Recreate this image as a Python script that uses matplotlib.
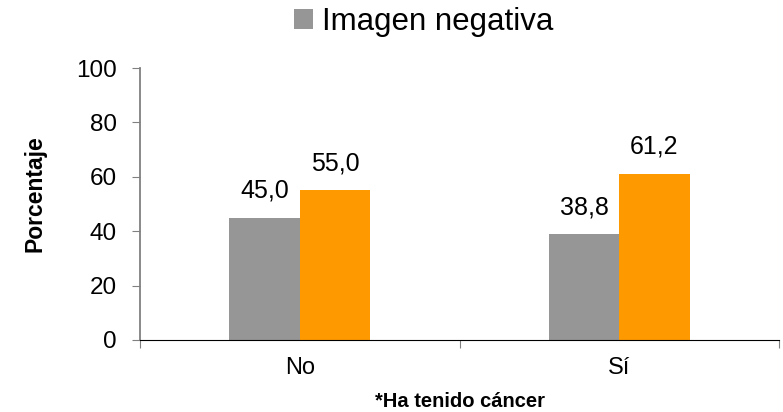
import matplotlib.pyplot as plt
import numpy as np

plt.rcParams['font.family'] = ['Liberation Sans', 'DejaVu Sans']

# Data
categorias = ['No', 'Sí']
imagen_negativa = [45.0, 38.8]
imagen_positiva = [55.0, 61.2]
yticks = [0, 20, 40, 60, 80, 100]

gris = '#969696'
naranja = '#ff9900'

fig = plt.figure(figsize=(7.83, 4.12), dpi=100)
ax = fig.add_axes([0.1788, 0.1748, 0.8161, 0.660])

centros = np.arange(len(categorias)) + 0.5
ancho = 0.22
b1 = ax.bar(centros - ancho / 2, imagen_negativa, ancho, color=gris, label='Imagen negativa')
b2 = ax.bar(centros + ancho / 2, imagen_positiva, ancho, color=naranja)

for barras, valores in ((b1, imagen_negativa), (b2, imagen_positiva)):
    for b, v in zip(barras, valores):
        ax.text(b.get_x() + b.get_width() / 2, v + 5.5, f'{v:.1f}'.replace('.', ','),
                ha='center', va='bottom', fontsize=18)

ax.set_xlim(0, 2)
ax.set_ylim(0, 100)
ax.set_yticks(yticks)
ax.set_xticks([0, 1, 2])
ax.set_xticklabels([])
ax.set_xticks(centros, minor=True)
ax.set_xticklabels(categorias, minor=True)
ax.tick_params(axis='x', which='minor', length=0, pad=12, labelsize=17)
ax.tick_params(axis='x', which='major', length=6, direction='out', color='#808080')
ax.tick_params(axis='y', length=5.5, direction='out', labelsize=17.5, color='#808080', pad=11)

ax.spines['top'].set_visible(False)
ax.spines['right'].set_visible(False)
ax.spines['left'].set_color('#808080')
ax.spines['left'].set_linewidth(1.3)
ax.spines['bottom'].set_color('black')

ax.set_ylabel('Porcentaje', fontsize=16.5, fontweight='bold', va='center')
ax.yaxis.set_label_coords(-0.164, 0.539)
ax.set_xlabel('*Ha tenido cáncer', fontsize=14.5, fontweight='bold', va='center')
ax.xaxis.set_label_coords(0.5, -0.225)

fig.legend(handles=[b1], loc='center', bbox_to_anchor=(0.541, 0.947), frameon=False,
           fontsize=22.5, handlelength=0.6, handleheight=0.6, handletextpad=0.3,
           borderpad=0, borderaxespad=0)

fig.savefig('out.png', dpi=100)
